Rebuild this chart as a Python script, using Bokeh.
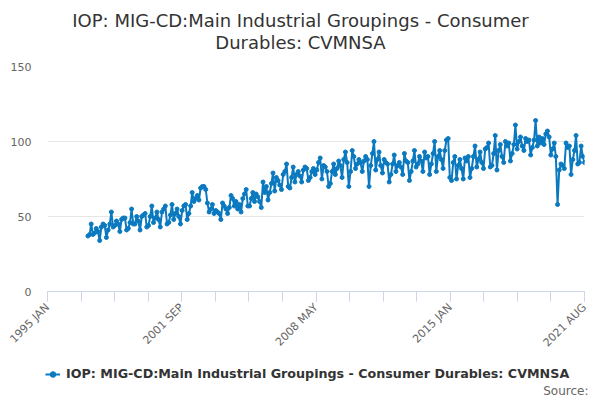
import numpy as np
import pandas as pd
from bokeh.plotting import figure
from bokeh.layouts import column
from bokeh.models import FixedTicker, Legend, LegendItem, ColumnDataSource, Range1d, Label
from bokeh.embed import file_html
from bokeh.resources import INLINE

TITLE_1 = "IOP: MIG-CD:Main Industrial Groupings - Consumer"
TITLE_2 = "Durables: CVMNSA"
SERIES_NAME = "IOP: MIG-CD:Main Industrial Groupings - Consumer Durables: CVMNSA"
SOURCE_TEXT = "Source:"
FIRST_MONTH = "1997-01-01"
AXIS_START = "1995-01-01"
AXIS_END = "2021-08-01"

x_tick_labels = ["1995 JAN", "2001 SEP", "2008 MAY", "2015 JAN", "2021 AUG"]
y_ticks = [0, 50, 100, 150]

y1997 = [37, 38, 45, 38, 39, 42, 40, 34, 43, 45, 44, 36]
y1998 = [41, 45, 53, 43, 44, 47, 45, 40, 48, 49, 49, 41]
y1999 = [42, 46, 55, 45, 45, 50, 47, 41, 50, 51, 52, 43]
y2000 = [44, 50, 57, 46, 49, 53, 48, 43, 53, 55, 57, 45]
y2001 = [46, 51, 58, 48, 52, 55, 50, 45, 54, 57, 58, 48]
y2002 = [52, 57, 66, 60, 62, 64, 61, 69, 70, 70, 68, 59]
y2003 = [53, 55, 58, 52, 54, 53, 52, 48, 59, 57, 55, 52]
y2004 = [56, 64, 62, 57, 60, 55, 58, 53, 62, 65, 68, 57]
y2005 = [57, 62, 66, 60, 65, 63, 60, 56, 73, 66, 70, 61]
y2006 = [66, 72, 79, 67, 76, 74, 71, 68, 78, 80, 85, 70]
y2007 = [69, 76, 83, 73, 78, 80, 77, 73, 81, 83, 82, 74]
y2008 = [76, 80, 82, 78, 81, 86, 89, 75, 84, 83, 80, 70]
y2009 = [72, 80, 85, 78, 82, 87, 84, 76, 88, 93, 86, 70]
y2010 = [80, 94, 90, 82, 85, 88, 86, 80, 87, 90, 88, 70]
y2011 = [84, 92, 100, 81, 88, 93, 84, 79, 88, 86, 85, 73]
y2012 = [78, 85, 91, 80, 84, 86, 83, 78, 92, 87, 86, 74]
y2013 = [80, 87, 94, 83, 85, 90, 87, 80, 93, 89, 90, 78]
y2014 = [85, 92, 100, 80, 90, 94, 88, 82, 94, 101, 102, 76]
y2015 = [74, 86, 90, 75, 84, 88, 82, 75, 89, 87, 90, 76]
y2016 = [82, 90, 97, 83, 88, 93, 86, 82, 95, 96, 99, 83]
y2017 = [84, 92, 104, 81, 94, 98, 90, 86, 100, 97, 99, 87]
y2018 = [92, 98, 111, 95, 100, 103, 97, 94, 102, 100, 101, 91]
y2019 = [96, 101, 114, 97, 103, 99, 102, 98, 105, 107, 103, 91]
y2020 = [95, 99, 90, 58, 81, 85, 84, 82, 99, 96, 97, 78]
y2021 = [88, 94, 104, 85, 86, 97, 90, 86]

values = (y1997 + y1998 + y1999 + y2000 + y2001 + y2002 + y2003 + y2004 + y2005
          + y2006 + y2007 + y2008 + y2009 + y2010 + y2011 + y2012 + y2013 + y2014
          + y2015 + y2016 + y2017 + y2018 + y2019 + y2020 + y2021)
dates = pd.date_range(FIRST_MONTH, periods=len(values), freq="MS")
src = ColumnDataSource(data=dict(x=dates, y=values))

FONT = "DejaVu Sans"
BLUE = "#0a79bf"
W = 592


def blank_fig(h):
    f = figure(width=W, height=h, x_range=Range1d(0, 1), y_range=Range1d(0, 1),
               output_backend="svg", toolbar_location=None,
               x_axis_location=None, y_axis_location=None, min_border=0,
               frame_align=False)
    f.outline_line_color = None
    f.grid.visible = False
    return f


# ---- title strip ----
top = blank_fig(54)
top.add_layout(Label(x=300, y=34, x_units="screen", y_units="screen", text=TITLE_1,
                     text_align="center", text_baseline="middle", text_font=FONT,
                     text_font_size="18px", text_color="#333333"))
top.add_layout(Label(x=300, y=12, x_units="screen", y_units="screen", text=TITLE_2,
                     text_align="center", text_baseline="middle", text_font=FONT,
                     text_font_size="18px", text_color="#333333"))

# ---- main chart ----
t0 = pd.Timestamp(AXIS_START).value / 1e6
t1 = pd.Timestamp(AXIS_END).value / 1e6
all_ticks = [float(t) for t in np.linspace(t0, t1, 17)]
major_ticks = all_ticks[::4]

p = figure(width=W, height=303, x_axis_type="datetime",
           x_range=Range1d(t0, t1), y_range=Range1d(0, 150),
           output_backend="svg", toolbar_location=None, frame_align=False,
           min_border_left=47, min_border_right=8, min_border_top=12, min_border_bottom=66)
p.outline_line_color = None
p.xgrid.visible = False
p.ygrid.grid_line_color = "#e6e6e6"
p.ygrid.grid_line_width = 1

p.yaxis.ticker = FixedTicker(ticks=y_ticks)
p.yaxis.axis_line_color = None
p.yaxis.major_tick_line_color = None
p.yaxis.minor_tick_line_color = None
p.yaxis.major_tick_out = 0
p.yaxis.major_tick_in = 0
p.yaxis.minor_tick_out = 0
p.yaxis.major_label_standoff = 16
p.yaxis.major_label_text_color = "#666666"
p.yaxis.major_label_text_font = FONT
p.yaxis.major_label_text_font_size = "11px"

p.xaxis.ticker = FixedTicker(ticks=major_ticks, minor_ticks=all_ticks)
p.xaxis.major_label_overrides = {t: lab for t, lab in zip(major_ticks, x_tick_labels)}
p.xaxis.axis_line_color = "#ccd6eb"
p.xaxis.major_tick_line_color = "#ccd6eb"
p.xaxis.minor_tick_line_color = "#ccd6eb"
p.xaxis.major_tick_out = 10
p.xaxis.major_tick_in = 0
p.xaxis.minor_tick_out = 10
p.xaxis.minor_tick_in = 0
p.xaxis.major_label_orientation = np.pi / 4
p.xaxis.major_label_standoff = 4
p.xaxis.major_label_text_color = "#666666"
p.xaxis.major_label_text_font = FONT
p.xaxis.major_label_text_font_size = "11px"

p.line("x", "y", source=src, line_color=BLUE, line_width=2)
p.scatter("x", "y", source=src, size=4, fill_color=BLUE, line_color=BLUE)

# ---- legend / source strip (same series, out of this strip's view; used only for the key) ----
bot = blank_fig(43)
lg_line = bot.line("x", "y", source=src, line_color=BLUE, line_width=2)
lg_pts = bot.scatter("x", "y", source=src, size=4, fill_color=BLUE, line_color=BLUE)
legend = Legend(items=[LegendItem(label=SERIES_NAME, renderers=[lg_line, lg_pts])],
                location=(45, 19), orientation="horizontal",
                padding=0, margin=0, border_line_color=None, background_fill_alpha=0,
                glyph_width=15, glyph_height=14, label_standoff=6, label_height=14,
                label_text_font=FONT, label_text_font_size="12.7px",
                label_text_font_style="bold", label_text_color="#333333")
bot.add_layout(legend)
bot.add_layout(Label(x=588, y=10, x_units="screen", y_units="screen", text=SOURCE_TEXT,
                     text_align="right", text_baseline="middle", text_font=FONT,
                     text_font_size="12px", text_color="#666666"))

layout = column(top, p, bot, spacing=0)
open("out.html", "w").write(file_html(layout, INLINE))
